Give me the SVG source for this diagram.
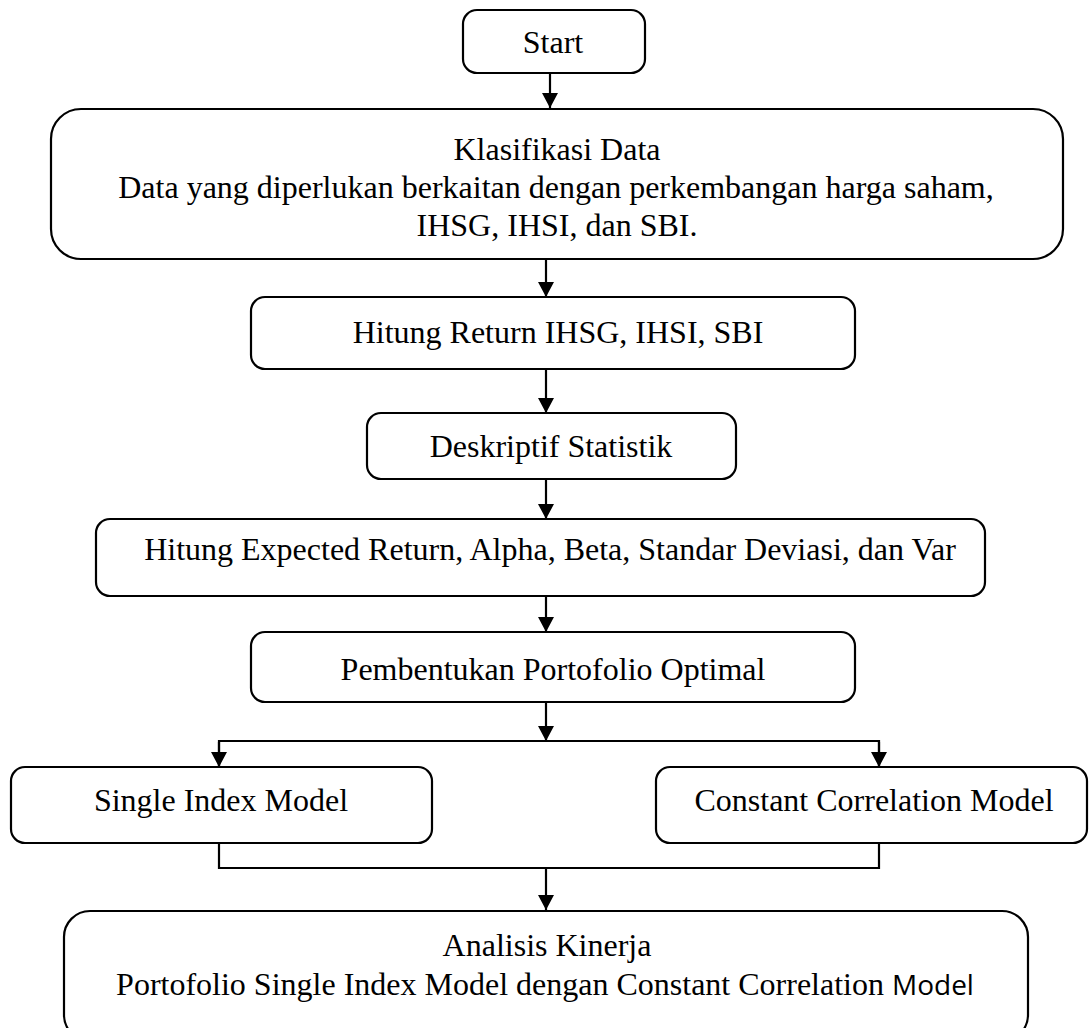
<svg xmlns="http://www.w3.org/2000/svg" width="1089" height="1028" viewBox="0 0 1089 1028">
<style>
.box{fill:#fff;stroke:#000;stroke-width:2.2}
.t{font-family:"Liberation Serif","Times New Roman",serif;font-size:32px;fill:#000;text-anchor:middle}
.s{font-family:"Open Sans","Liberation Sans",sans-serif;font-size:28px}
.c{fill:none;stroke:#000;stroke-width:2.2}
</style>
<defs>
<marker id="ah" markerWidth="16" markerHeight="16" refX="15" refY="8" orient="auto" markerUnits="userSpaceOnUse">
<path d="M0,0 L15,8 L0,16 Z" fill="#000"/>
</marker>
</defs>
<rect width="1089" height="1028" fill="#fff"/>
<g id="connectors">
<path class="c" d="M550,73 V108" marker-end="url(#ah)"/>
<path class="c" d="M546,259 V297" marker-end="url(#ah)"/>
<path class="c" d="M546,369 V413" marker-end="url(#ah)"/>
<path class="c" d="M546,479 V519" marker-end="url(#ah)"/>
<path class="c" d="M546,596 V632" marker-end="url(#ah)"/>
<path class="c" d="M546,702 V741" marker-end="url(#ah)"/>
<path class="c" d="M219,767 V741 H879 V767"/>
<path class="c" d="M219,742 V767" marker-end="url(#ah)"/>
<path class="c" d="M879,742 V767" marker-end="url(#ah)"/>
<path class="c" d="M219,843 V868 H879 V843"/>
<path class="c" d="M546,868 V910" marker-end="url(#ah)"/>
</g>
<g id="start">
<rect class="box" x="463" y="10" width="182" height="63" rx="14"/>
<text class="t" x="553" y="53">Start</text>
</g>
<g id="klasifikasi">
<rect class="box" x="51" y="109" width="1012" height="150" rx="30"/>
<text class="t" x="557" y="160">Klasifikasi Data</text>
<text class="t" x="556" y="198">Data yang diperlukan berkaitan dengan perkembangan harga saham,</text>
<text class="t" x="557" y="236">IHSG, IHSI, dan SBI.</text>
</g>
<g id="hitung-return">
<rect class="box" x="251" y="297" width="604" height="72" rx="14"/>
<text class="t" x="558" y="343">Hitung Return IHSG, IHSI, SBI</text>
</g>
<g id="deskriptif">
<rect class="box" x="367" y="413" width="369" height="66" rx="14"/>
<text class="t" x="551" y="457">Deskriptif Statistik</text>
</g>
<g id="hitung-expected">
<rect class="box" x="96" y="519" width="889" height="77" rx="14"/>
<text class="t" x="550" y="560">Hitung Expected Return, Alpha, Beta, Standar Deviasi, dan Var</text>
</g>
<g id="pembentukan">
<rect class="box" x="251" y="632" width="604" height="70" rx="14"/>
<text class="t" x="553" y="680">Pembentukan Portofolio Optimal</text>
</g>
<g id="single-index">
<rect class="box" x="11" y="767" width="421" height="76" rx="14"/>
<text class="t" x="221" y="811">Single Index Model</text>
</g>
<g id="constant-correlation">
<rect class="box" x="656" y="767" width="431" height="76" rx="14"/>
<text class="t" x="874" y="811">Constant Correlation Model</text>
</g>
<g id="analisis">
<rect class="box" x="64" y="911" width="964" height="130" rx="26"/>
<text class="t" x="547" y="956">Analisis Kinerja</text>
<text class="t" x="545" y="995">Portofolio Single Index Model dengan Constant Correlation <tspan class="s">Model</tspan></text>
</g>
</svg>
